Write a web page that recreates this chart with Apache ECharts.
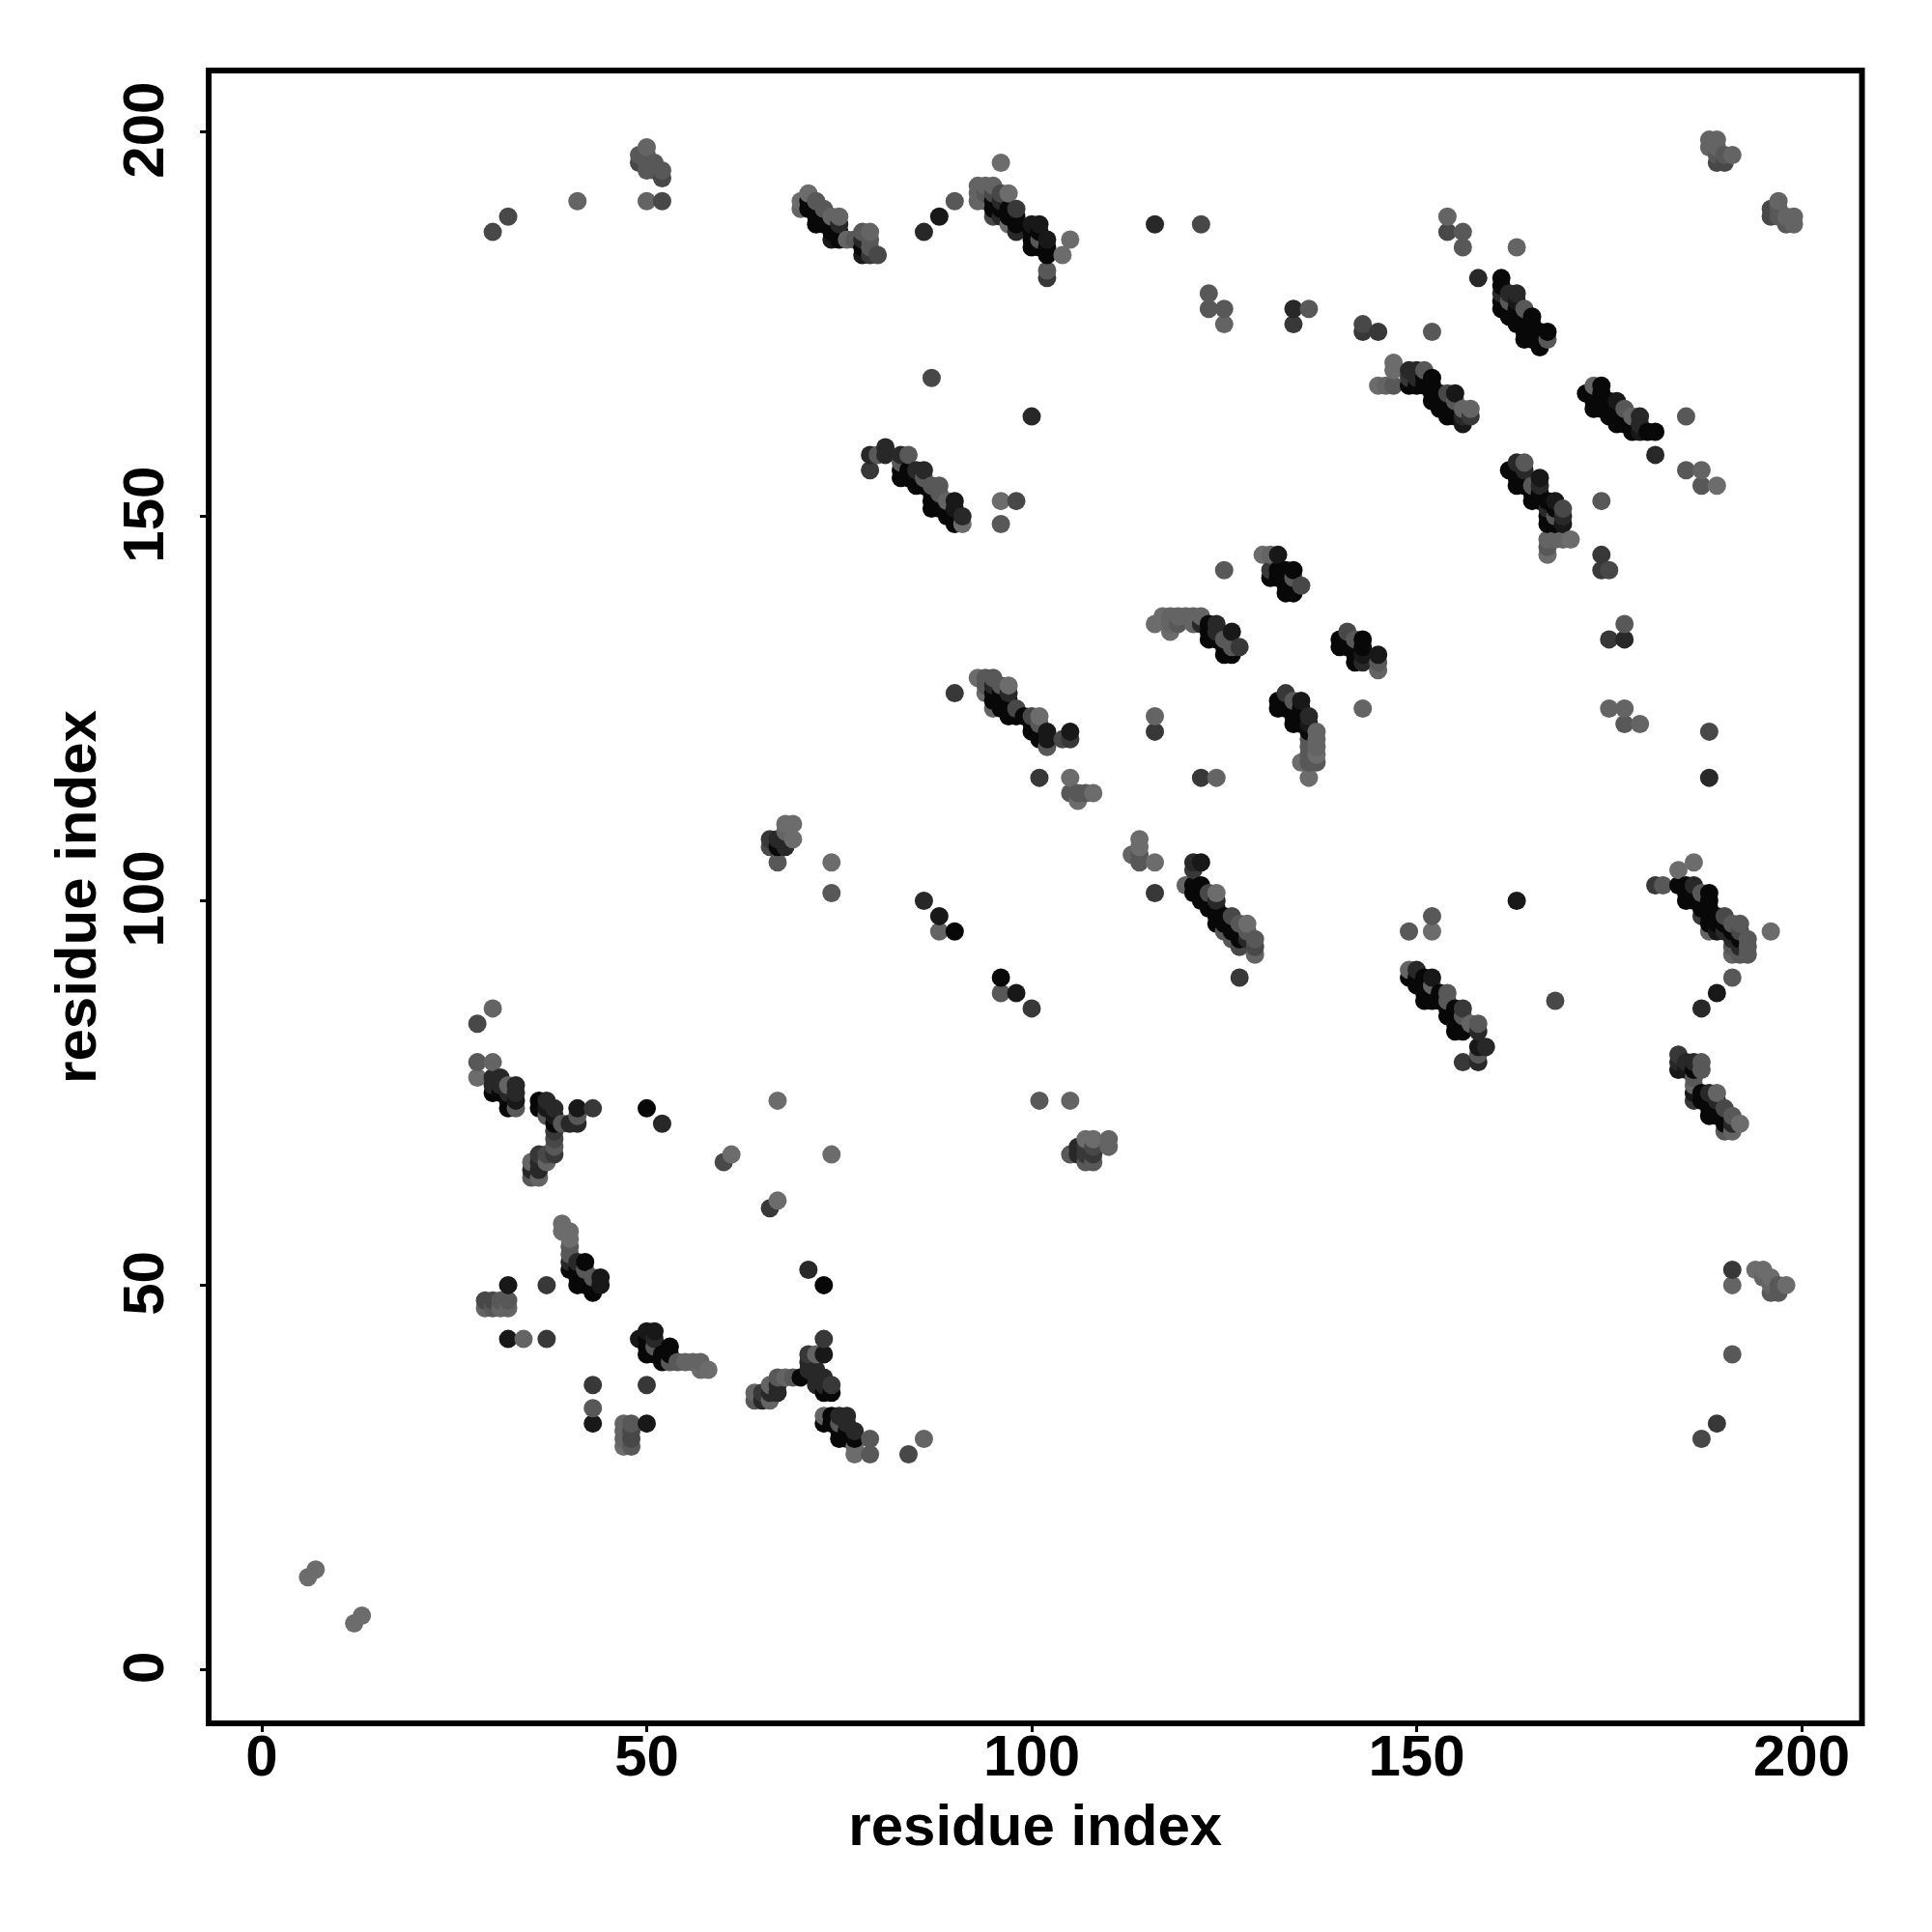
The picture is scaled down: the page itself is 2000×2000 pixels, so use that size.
<!DOCTYPE html>
<html><head><meta charset="utf-8">
<script src="https://cdn.jsdelivr.net/npm/echarts@6/dist/echarts.min.js"></script>
<style>html,body{margin:0;padding:0;background:#fff}#c{width:2000px;height:2000px}</style>
</head><body><div id="c"></div>
<script>
// gray shades of contact strength
const K=8,J=24,D=40,E=56,M=72,N=88,O=100,L=108;
const tickValues=[0,50,100,150,200];
const axisName='residue index';
// each entry: [residue x, residue y, gray]
const lowerLeft=[[6,12,L],[7,13,L],[12,6,L],[13,7,L]];
const groupA=[[30,86,O],[28,84,M],[28,79,N],[30,79,O],[28,77,L],[30,77,D],[31,77,D],[30,76,D],[30,75,K],[31,76,D],[31,75,K],[32,76,O],[32,75,D],[32,74,K],[32,73,K],[33,76,D],[33,75,D],[33,74,J],[33,73,N],
[36,74,K],[36,73,K],[37,74,D],[37,73,J],[37,72,N],[38,73,D],[38,72,J],[41,73,J],[43,73,E],[41,72,N],[41,71,D],[40,71,D],[39,71,N],[38,71,K],[38,70,E],[38,69,M],[38,68,N],[38,67,E],[37,66,O],[37,67,M],[36,67,E],[36,66,D],[35,66,O],[35,65,D],[35,64,N],[36,64,O],[36,65,D],
[50,73,K],[52,71,D],[67,74,L],[60,66,M],[61,67,L],[74,67,L],[66,60,E],[67,61,L]];
const groupB=[[39,58,L],[39,57,L],[40,57,L],[40,56,L],[40,55,N],[40,54,N],[40,53,D],[40,52,K],[41,53,D],[42,53,K],[41,52,K],[41,51,K],[41,50,K],[42,52,N],[42,51,K],[42,50,K],[43,51,N],[43,50,K],[44,51,J],[44,50,J],[43,49,K],
[32,50,J],[37,50,E],[71,52,D],[73,50,K],[29,48,M],[30,48,M],[31,48,N],[32,48,N],[29,47,O],[30,47,N],[31,47,O],[32,47,O],[32,43,J],[34,43,O],[37,43,E]];
const groupC=[[49,43,J],[50,44,J],[51,44,J],[50,43,K],[50,42,K],[50,41,K],[51,43,D],[51,42,N],[51,41,K],[52,41,K],[52,40,K],[53,42,K],[53,41,K],[53,40,N],[54,40,N],[55,40,O],[56,40,O],[57,40,O],[57,39,L],[58,39,L],
[43,37,E],[50,37,E],[43,34,N],[43,32,J],[50,32,J],[47,32,O],[47,31,O],[47,30,O],[47,29,L],[48,32,N],[48,31,M],[48,30,M],[48,29,N]];
const groupD=[[73,43,E],[73,41,J],[71,41,E],[71,40,D],[72,41,O],[71,39,D],[70,38,K],[69,38,N],[68,38,O],[67,38,N],[67,37,D],[67,36,D],[66,37,O],[65,36,E],[64,36,O],[64,35,N],[65,35,D],[66,36,D],[66,35,O],[72,39,D],[72,38,D],[73,38,D],[72,37,D],[73,37,D],[74,37,E],[73,36,K],[74,36,K],
[73,33,O],[73,32,K],[74,33,K],[75,33,D],[76,33,D],[74,32,K],[75,32,N],[75,31,K],[75,30,K],[76,32,D],[76,31,K],[76,30,K],[77,31,D],[77,30,K],[79,30,N],[77,29,L],[77,28,L],[79,28,N],[84,28,M],[86,30,O]];
const groupE=[[70,191,L],[70,190,O],[71,192,L],[72,191,N],[73,190,N],[74,189,O],[75,189,O],[71,191,K],[71,190,K],[72,190,K],[72,189,K],[72,188,K],[73,189,K],[73,188,K],[74,188,K],[74,187,K],[74,186,J],[75,188,D],[75,187,K],[75,186,K],[76,186,O],[77,186,N],[78,187,N],[79,187,O],[78,186,D],[79,186,N],[78,185,K],[78,184,J],[79,185,N],[79,184,E],[80,184,M],
[86,187,D],[88,189,J],[90,191,N],[96,196,L],[93,193,O],[93,192,O],[93,191,O],[94,193,O],[94,192,N],[94,191,O],[95,193,O],[95,192,M],[96,192,M],[97,192,L],[96,191,D],[95,191,K],[95,190,K],[96,190,K],[95,189,M],[98,190,E],[96,189,D],[97,190,K],[97,189,K],[97,188,L],[98,189,K],[98,188,K],[98,187,D],[100,188,J],[101,188,J],[100,187,K],[100,186,K],[100,185,K],[101,187,K],[102,186,J],[101,186,N],[102,185,K],[102,184,K],[101,185,K],[105,186,L],[104,184,L],[102,182,N],[102,181,E],[116,188,D],[122,188,M],[87,168,M],[100,163,D]];
const groupF=[[79,158,D],[79,156,E],[80,158,N],[81,159,D],[81,158,D],[83,158,D],[84,158,N],[83,157,N],[83,156,K],[83,155,K],[84,156,K],[84,155,K],[85,156,D],[86,156,D],[85,155,K],[85,154,K],[86,155,N],[86,154,K],[87,154,N],[88,154,N],[87,153,K],[87,152,K],[87,151,K],[88,153,N],[88,152,K],[88,151,K],[89,152,O],[90,152,J],[89,151,K],[89,150,K],[90,151,J],[90,150,K],[90,149,K],[91,150,D],[91,149,L],[96,152,L],[98,152,M],[96,149,N],
[50,198,O],[49,197,N],[49,196,M],[50,197,N],[50,196,N],[50,195,N],[51,196,N],[51,195,N],[52,195,N],[52,194,M],[50,191,O],[52,191,M],[30,187,M],[32,189,M],[41,191,O]];
const groupG=[[154,189,O],[154,187,M],[156,187,N],[156,185,N],[163,185,O],[158,181,D],[161,181,K],[161,180,K],[161,179,D],[161,178,K],[161,177,K],[162,179,D],[162,178,N],[163,179,D],[163,178,J],[164,177,N],[162,177,K],[162,176,K],[163,177,K],[163,176,K],[163,175,K],[164,176,K],[164,175,K],[164,174,K],[164,173,K],[165,176,K],[165,175,K],[165,174,K],[165,173,K],[166,174,K],[166,173,K],[166,172,K],[167,174,K],[167,173,N],
[143,175,M],[143,174,E],[145,174,E],[152,174,N],[134,177,D],[134,175,E],[136,177,N],[123,179,N],[123,177,N],[125,177,N],[125,175,O]];
const groupH=[[147,170,L],[147,169,L],[145,167,L],[146,167,O],[147,167,N],[149,169,D],[150,169,D],[151,169,N],[149,168,E],[149,167,K],[150,168,D],[150,167,K],[151,168,K],[151,167,K],[152,168,K],[152,167,K],[152,166,K],[152,165,K],[153,166,K],[153,165,K],[153,164,K],[154,166,M],[155,166,J],[154,165,K],[154,164,K],[154,163,K],[155,165,N],[155,164,K],[155,163,K],[156,164,O],[157,164,O],[156,163,D],[156,162,J],[157,163,E],
[172,166,K],[173,167,O],[174,167,K],[174,166,K],[173,166,K],[173,165,K],[173,164,K],[174,165,K],[174,164,K],[175,165,K],[175,164,K],[175,163,K],[176,165,J],[176,164,K],[176,163,K],[176,162,K],[177,164,N],[177,163,K],[177,162,K],[178,163,O],[178,162,K],[178,161,K],[179,163,D],[179,162,D],[179,161,J],[180,161,K],[181,161,K],[185,163,N],[181,158,D],[185,156,N],[187,156,O],[187,154,N],[189,154,L]];
const groupI=[[162,156,K],[163,157,D],[164,157,N],[163,156,K],[164,156,D],[163,155,K],[163,154,K],[164,155,K],[164,154,K],[165,154,N],[166,155,J],[165,153,K],[166,154,D],[165,152,K],[166,153,K],[166,152,K],[167,152,K],[168,152,J],[167,151,D],[168,151,K],[169,151,M],[169,150,D],[169,149,J],[167,149,K],[168,150,N],[168,149,K],[167,150,K],[167,147,O],[167,146,N],[167,145,L],[169,147,O],[170,147,L],[168,147,O],[174,152,N],[174,145,E],[174,143,E],[175,143,M],[177,136,N],[175,134,E],[177,134,D],[175,125,O],[177,125,O],[177,123,N],[179,123,O],[188,122,M],[188,116,D]];
const groupJ=[[125,143,N],[130,145,L],[131,145,O],[132,145,J],[131,143,E],[131,142,K],[132,143,K],[132,142,K],[133,143,K],[134,143,K],[133,142,K],[133,141,K],[133,140,K],[134,141,K],[134,140,K],[135,141,M],[134,142,N],
[116,136,L],[117,137,L],[118,137,O],[119,137,O],[120,137,O],[121,137,O],[122,137,O],[118,136,O],[119,136,N],[118,135,L],[121,136,O],[122,136,D],[123,136,K],[123,135,K],[124,136,D],[123,134,K],[124,135,D],[124,134,K],[126,135,J],[125,134,N],[127,133,E],[125,133,K],[125,132,K],[126,133,N],[126,132,K],
[141,135,M],[140,134,K],[140,133,K],[141,134,K],[141,133,K],[142,134,N],[142,133,K],[143,134,K],[143,133,K],[142,132,K],[142,131,K],[143,132,J],[143,131,D],[145,132,J],[145,131,N],[145,130,O],[143,125,O]];
const groupK=[[133,127,E],[132,126,K],[132,125,K],[133,126,K],[134,126,N],[135,126,J],[133,125,K],[134,125,K],[134,124,K],[135,125,K],[136,124,D],[135,124,K],[134,123,K],[135,123,K],[136,123,J],[137,122,O],[137,121,O],[136,122,K],[136,121,N],[137,120,O],[137,119,L],[136,120,N],[136,119,N],[135,118,L],[136,118,N],[137,118,N],[136,116,L]];
const groupL=[[90,127,E],[93,129,L],[94,129,N],[95,129,N],[94,128,N],[94,127,L],[95,128,D],[96,128,N],[97,128,L],[95,127,K],[95,126,K],[95,125,O],[96,127,K],[96,126,K],[96,125,K],[97,127,D],[97,126,K],[97,125,K],[98,125,M],[97,124,K],[98,124,K],[99,124,K],[100,124,M],[101,124,L],[100,123,K],[100,122,K],[101,123,N],[101,122,K],[102,122,J],[101,121,K],[102,121,J],[102,120,N],[104,121,M],[105,122,J],[105,121,E],
[101,116,E],[105,116,L],[105,114,N],[106,114,N],[107,114,N],[108,114,L],[106,113,L],[116,124,O],[116,122,E],[122,116,E],[124,116,O]];
const groupM=[[114,108,L],[114,107,L],[113,106,O],[114,106,N],[114,105,N],[116,105,L],[116,101,E],[121,105,D],[122,105,J],[121,104,E],[120,102,O],[121,102,K],[122,102,K],[121,101,K],[122,101,K],[122,100,K],[123,101,M],[123,100,K],[123,99,K],[124,101,L],[124,100,D],[124,99,K],[124,98,K],[125,98,K],[124,97,K],[125,97,K],[126,98,M],[126,97,K],[127,97,N],[126,96,K],[128,97,L],[125,96,N],[127,96,K],[128,96,N],[126,95,N],[127,95,K],[127,94,M],[128,95,D],[129,95,N],[129,94,M],[129,93,O],[127,90,E],
[149,96,N],[152,98,N],[152,96,L],[149,91,O],[149,90,K],[150,91,D],[150,90,K],[151,90,K],[152,90,J],[152,89,O],[150,89,K],[151,89,K],[151,88,K],[151,87,K],[152,88,K],[152,87,K],[153,88,K],[153,87,K],[154,88,N],[154,87,N],[154,86,K],[155,86,K],[156,86,E],[154,85,K],[155,85,K],[156,85,N],[155,84,K],[156,84,K],[155,83,K],[156,83,K],[157,84,O],[158,84,N],[158,83,D],[159,81,D],[158,81,J],[158,80,N],[158,79,D],[156,79,E]];
const groupN=[[186,105,L],[184,104,L],[181,102,E],[182,102,N],[184,102,K],[185,102,K],[186,102,D],[187,101,N],[188,101,K],[185,101,K],[186,101,K],[185,100,K],[186,100,K],[187,100,K],[188,100,K],[187,99,K],[188,99,K],[187,98,E],[188,98,K],[189,98,K],[190,98,M],[188,97,K],[189,97,K],[190,97,K],[191,97,N],[192,97,N],[188,96,O],[189,96,J],[190,96,D],[191,96,K],[192,96,M],[191,95,D],[192,95,K],[193,95,N],[191,94,N],[192,94,D],[193,94,N],[191,93,O],[192,93,N],[193,93,N],[196,96,L],[191,90,N],[189,88,J],[187,86,D],
[184,80,E],[184,79,D],[184,78,J],[185,79,D],[185,78,J],[186,79,D],[186,78,K],[187,79,N],[187,78,N],[186,77,N],[186,76,O],[186,75,J],[186,74,E],[187,75,K],[188,75,D],[189,75,O],[187,74,K],[188,74,K],[188,73,K],[188,72,K],[189,74,D],[189,73,K],[189,72,K],[190,73,M],[191,72,N],[190,72,K],[190,71,K],[190,70,N],[191,71,D],[191,70,O],[192,71,L]];
const groupO=[[96,90,K],[96,88,N],[98,88,J],[100,86,E],[86,100,D],[88,98,J],[88,96,O],[90,96,K],[74,101,N],[74,105,L],[68,110,L],[69,110,L],[69,108,L],[68,109,O],[66,108,E],[67,108,D],[68,108,D],[66,107,M],[67,107,K],[68,107,D],[67,105,N],[101,74,N],[105,74,O],
[105,67,N],[107,69,L],[108,69,L],[110,69,O],[110,68,O],[106,67,D],[106,68,D],[107,68,E],[107,67,E],[107,66,N],[108,68,M],[108,67,E],[108,66,N],[191,52,E],[191,50,O],[194,52,L],[195,52,L],[195,51,O],[196,51,L],[196,50,O],[196,49,N],[197,50,N],[197,49,N],[198,50,L],[191,41,N],[189,32,E],[187,30,M],[163,100,J],[168,87,M]];
const groupP=[[188,199,O],[189,199,O],[188,198,O],[189,198,O],[190,197,N],[191,197,O],[189,196,M],[190,196,M],[189,197,N],[197,191,O],[196,190,M],[196,189,M],[197,190,N],[197,189,N],[198,189,O],[199,189,O],[198,188,N],[199,188,O]];

const contacts=[].concat(lowerLeft,groupA,groupB,groupC,groupD,groupE,groupF,groupG,groupH,groupI,groupJ,groupK,groupL,groupM,groupN,groupO,groupP);
// drawing order of the original: by x, then by y
contacts.sort((a,b)=>a[0]-b[0]||a[1]-b[1]);

const axisText={fontFamily:'Liberation Sans',fontWeight:'bold',fontSize:60,color:'#000'};
const chart=echarts.init(document.getElementById('c'),null,{renderer:'canvas'});
chart.setOption({
  animation:false,
  backgroundColor:'#fff',
  grid:{left:216,top:73,width:1711.5,height:1711,show:true,borderColor:'#000',borderWidth:6,backgroundColor:'transparent'},
  xAxis:{type:'value',min:-6.9,max:207.84,splitLine:{show:false},
    axisLine:{show:false,onZero:false},
    axisTick:{show:true,length:9,lineStyle:{color:'#000',width:3},customValues:tickValues},
    axisLabel:Object.assign({margin:7,customValues:tickValues,showMinLabel:true,showMaxLabel:true},axisText),
    name:axisName,nameLocation:'middle',nameGap:79,nameTextStyle:axisText},
  yAxis:{type:'value',min:-7,max:208,splitLine:{show:false},
    axisLine:{show:false,onZero:false},
    axisTick:{show:true,length:9,lineStyle:{color:'#000',width:3},customValues:tickValues},
    axisLabel:Object.assign({margin:34,rotate:90,padding:[0,0,0,4],customValues:tickValues,showMinLabel:true,showMaxLabel:true},axisText),
    name:axisName,nameLocation:'middle',nameGap:104,nameRotate:90,nameTextStyle:axisText},
  series:[{type:'scatter',symbol:'circle',symbolSize:19,silent:true,
    data:contacts.map(p=>({value:[p[0],p[1]],itemStyle:{color:'rgb('+p[2]+','+p[2]+','+p[2]+')',opacity:1}}))}]
});
</script></body></html>
